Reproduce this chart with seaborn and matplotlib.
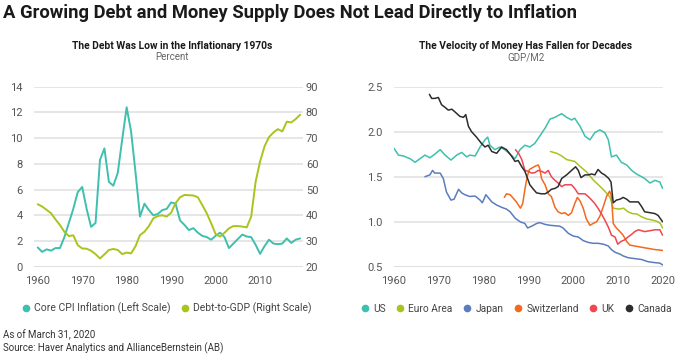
import pandas as pd
import matplotlib
matplotlib.use("Agg")
import matplotlib.pyplot as plt
from matplotlib.lines import Line2D
import seaborn as sns

sns.set_style("white")
plt.rcParams['font.family'] = ['Roboto', 'DejaVu Sans']

# ---- left panel: core CPI and debt-to-GDP, annual 1960-2019
years = list(range(1960, 2020))
cpi = [1.5, 1.15, 1.35, 1.25, 1.45, 1.45, 2.3, 3.4, 4.5, 5.8,
       6.2, 4.5, 3.1, 3.4, 8.3, 9.2, 6.6, 6.3, 7.3, 9.9,
       12.4, 10.5, 7.3, 3.9, 4.9, 4.4, 4.0, 4.1, 4.4, 4.5,
       5.0, 4.9, 3.6, 3.25, 2.85, 3.0, 2.65, 2.4, 2.3, 2.1,
       2.4, 2.65, 2.3, 1.45, 1.8, 2.15, 2.5, 2.35, 2.3, 1.7,
       1.0, 1.6, 2.1, 1.8, 1.75, 1.8, 2.2, 1.85, 2.1, 2.2]
debt = [44.3, 43.4, 42.1, 40.8, 38.4, 36.2, 33.6, 31.9, 32.2, 28.4,
        27.1, 27.0, 26.2, 24.9, 23.2, 24.8, 26.5, 26.9, 26.5, 24.9,
        25.5, 25.2, 28.0, 32.3, 33.6, 35.8, 38.8, 39.7, 40.0, 39.5,
        41.0, 44.7, 47.0, 47.9, 47.8, 47.7, 47.0, 44.0, 40.8, 36.9,
        32.7, 31.7, 33.2, 34.9, 35.8, 35.8, 35.6, 35.3, 39.5, 53.1,
        60.9, 66.8, 70.4, 72.2, 73.5, 72.6, 76.4, 76.1, 77.4, 79.1]

# ---- right panel: velocity of money (GDP/M2)
us_year = [1960, 1961.0, 1962.1, 1963.6, 1964.7, 1965.8, 1966.9, 1968.0, 1969.1, 1970.3,
           1971.4, 1972.7, 1974.0, 1975.1, 1976.2, 1976.9, 1978.1, 1979.2, 1980.3, 1980.9,
           1981.4, 1982.5, 1983.6, 1984.7, 1985.9, 1987.0, 1988.1, 1989.2, 1990.3, 1991.4,
           1992.5, 1993.7, 1994.8, 1995.9, 1997.4, 1998.5, 1999.6, 2000.3, 2001.5, 2002.6,
           2003.7, 2004.8, 2005.9, 2007.0, 2007.8, 2008.5, 2009.6, 2010.7, 2011.9, 2013.0,
           2014.1, 2015.2, 2015.9, 2017.1, 2018.2, 2019.3, 2019.9]
us_val = [1.815, 1.74, 1.73, 1.70, 1.66, 1.70, 1.74, 1.71, 1.75, 1.80,
          1.74, 1.685, 1.74, 1.77, 1.72, 1.74, 1.73, 1.83, 1.91, 1.94,
          1.85, 1.80, 1.83, 1.80, 1.75, 1.70, 1.80, 1.85, 1.83, 1.87,
          1.95, 2.04, 2.14, 2.16, 2.20, 2.16, 2.13, 2.15, 2.06, 1.95,
          1.91, 1.99, 2.02, 1.99, 1.91, 1.72, 1.74, 1.66, 1.63, 1.57,
          1.53, 1.50, 1.48, 1.43, 1.46, 1.44, 1.37]

euro_year = [1994.9, 1996.3, 1997.4, 1998.5, 2000.3, 2001.6, 2003.0, 2004.5, 2005.8, 2007.2,
             2008.2, 2008.9, 2010.2, 2011.2, 2012.2, 2013.2, 2014.2, 2015.2, 2016.4, 2017.5,
             2018.6, 2019.4, 2019.9]
euro_val = [1.78, 1.76, 1.73, 1.69, 1.67, 1.61, 1.55, 1.46, 1.40, 1.33,
            1.27, 1.15, 1.14, 1.15, 1.11, 1.09, 1.085, 1.055, 1.03, 1.02,
            1.005, 0.98, 0.93]

japan_year = [1966.9, 1968.0, 1968.6, 1969.1, 1970.3, 1971.0, 1971.7, 1972.7, 1973.4, 1974.4,
              1975.1, 1975.8, 1976.9, 1978.1, 1979.2, 1979.7, 1980.5, 1981.8, 1982.9, 1984.0,
              1985.1, 1985.9, 1987.0, 1988.1, 1989.2, 1989.8, 1990.7, 1991.8, 1992.5, 1993.7,
              1994.8, 1995.9, 1997.0, 1997.7, 1998.9, 2000.0, 2001.1, 2002.2, 2003.3, 2004.4,
              2005.5, 2006.7, 2007.8, 2008.5, 2009.3, 2010.4, 2011.1, 2012.2, 2013.7, 2015.2,
              2016.7, 2018.2, 2019.3, 2019.9]
japan_val = [1.50, 1.52, 1.57, 1.54, 1.54, 1.48, 1.33, 1.24, 1.25, 1.36,
             1.32, 1.30, 1.28, 1.285, 1.24, 1.21, 1.30, 1.22, 1.185, 1.16,
             1.14, 1.11, 1.04, 1.00, 0.98, 0.93, 0.95, 0.98, 0.99, 0.97,
             0.96, 0.955, 0.95, 0.93, 0.87, 0.84, 0.83, 0.79, 0.77, 0.76,
             0.76, 0.75, 0.73, 0.69, 0.66, 0.64, 0.62, 0.60, 0.59, 0.58,
             0.555, 0.545, 0.54, 0.52]

swiss_year = [1984.6, 1985.1, 1985.9, 1986.6, 1987.3, 1988.2, 1988.7, 1989.2, 1989.7, 1990.2,
              1990.9, 1991.6, 1992.2, 1992.5, 1992.9, 1993.7, 1994.4, 1995.1, 1995.9, 1996.6,
              1997.4, 1998.1, 1998.9, 1999.6, 2000.3, 2000.9, 2001.5, 2002.2, 2002.9, 2003.7,
              2004.4, 2005.2, 2005.9, 2006.7, 2007.4, 2008.1, 2008.5, 2008.9, 2009.6, 2010.4,
              2011.1, 2011.9, 2012.6, 2013.7, 2014.8, 2015.9, 2017.1, 2018.2, 2019.3, 2019.9]
swiss_val = [1.27, 1.31, 1.30, 1.26, 1.22, 1.15, 1.20, 1.36, 1.50, 1.58,
             1.60, 1.62, 1.63, 1.59, 1.48, 1.41, 1.31, 1.28, 1.16, 1.11,
             1.09, 1.10, 1.07, 1.10, 1.20, 1.27, 1.23, 1.15, 1.03, 0.96,
             0.98, 1.00, 1.06, 1.17, 1.28, 1.34, 1.28, 0.98, 0.93, 0.89,
             0.85, 0.78, 0.74, 0.73, 0.72, 0.71, 0.70, 0.69, 0.685, 0.68]

uk_year = [1987.1, 1987.9, 1988.5, 1989.2, 1989.9, 1990.7, 1991.4, 1992.2, 1992.9, 1993.7,
           1994.4, 1995.1, 1995.9, 1996.6, 1997.4, 1998.1, 1998.9, 1999.6, 2000.3, 2001.1,
           2001.8, 2002.6, 2003.3, 2004.1, 2004.8, 2005.5, 2006.3, 2007.0, 2007.8, 2008.5,
           2009.3, 2009.9, 2010.6, 2011.5, 2012.2, 2013.0, 2013.7, 2014.5, 2015.2, 2015.9,
           2017.1, 2018.2, 2019.3, 2019.9]
uk_val = [1.80, 1.75, 1.69, 1.57, 1.56, 1.54, 1.545, 1.57, 1.56, 1.54,
          1.57, 1.50, 1.46, 1.43, 1.39, 1.41, 1.41, 1.41, 1.37, 1.31,
          1.31, 1.31, 1.28, 1.24, 1.20, 1.15, 1.085, 1.02, 0.94, 0.85,
          0.83, 0.75, 0.78, 0.80, 0.83, 0.86, 0.89, 0.91, 0.90, 0.89,
          0.90, 0.91, 0.91, 0.85]

canada_year = [1967.9, 1968.4, 1969.1, 1969.9, 1970.6, 1971.4, 1972.1, 1972.9, 1973.6, 1974.7,
               1975.5, 1976.0, 1976.6, 1977.3, 1978.4, 1979.5, 1980.3, 1981.0, 1981.8, 1982.9,
               1984.0, 1985.1, 1986.2, 1987.0, 1987.7, 1988.5, 1989.2, 1990.3, 1991.1, 1991.8,
               1992.9, 1993.7, 1994.4, 1995.1, 1995.9, 1996.6, 1997.4, 1998.5, 1999.6, 2000.5,
               2001.1, 2001.7, 2002.6, 2003.3, 2004.1, 2004.8, 2005.5, 2006.3, 2007.0, 2007.9,
               2008.4, 2008.9, 2009.6, 2010.4, 2011.1, 2011.9, 2012.6, 2013.7, 2014.5, 2015.2,
               2015.9, 2017.1, 2018.2, 2018.9, 2019.9]
canada_val = [2.415, 2.37, 2.37, 2.38, 2.30, 2.27, 2.24, 2.25, 2.22, 2.17,
              2.16, 2.19, 2.06, 2.00, 1.94, 1.87, 1.83, 1.85, 1.78, 1.76,
              1.83, 1.80, 1.73, 1.67, 1.68, 1.61, 1.56, 1.41, 1.36, 1.32,
              1.31, 1.31, 1.33, 1.36, 1.37, 1.39, 1.48, 1.52, 1.57, 1.61,
              1.57, 1.49, 1.52, 1.52, 1.53, 1.52, 1.58, 1.54, 1.52, 1.48,
              1.44, 1.21, 1.24, 1.25, 1.27, 1.25, 1.22, 1.22, 1.22, 1.17,
              1.11, 1.10, 1.09, 1.07, 1.00]

countries = ["US", "Euro Area", "Japan", "Switzerland", "UK", "Canada"]
colors = ["#3fbfad", "#a9c41d", "#5b7dbd", "#f26a1e", "#f0464f", "#2d2d2d"]

TICK = "#555555"
GRID = "#e2e2e2"

vel = pd.concat([
    pd.DataFrame({"year": y, "v": v, "country": c})
    for y, v, c in zip([us_year, euro_year, japan_year, swiss_year, uk_year, canada_year],
                       [us_val, euro_val, japan_val, swiss_val, uk_val, canada_val],
                       countries)
])

fig = plt.figure(figsize=(6.9, 3.54), dpi=100)


def style_axis(a):
    for s in a.spines.values():
        s.set_visible(False)
    a.tick_params(length=0, labelsize=8, labelcolor=TICK)
    a.set_xlabel("")
    a.set_ylabel("")


# ---------- left
ax = fig.add_axes([0.0493, 0.2466, 0.3899, 0.5085])
ax2 = ax.twinx()
sns.lineplot(x=years, y=cpi, ax=ax, color=colors[0], lw=1.4)
sns.lineplot(x=years, y=debt, ax=ax2, color=colors[1], lw=1.4)
ax.set_xlim(1959.17, 2019.66)
ax.set_ylim(0, 14)
ax2.set_ylim(20, 90)
ax.set_yticks(range(0, 15, 2))
ax2.set_yticks(range(20, 91, 10))
ax.set_xticks(range(1960, 2011, 10))
ax.yaxis.grid(True, color=GRID, lw=1.2)
ax.set_axisbelow(True)
ax.axhline(0, color="#c9c9c9", lw=1.8, zorder=0.5)
style_axis(ax)
style_axis(ax2)
ax.tick_params(axis="y", pad=8)
ax.tick_params(axis="x", pad=7)
ax2.tick_params(axis="y", pad=2)

fig.text(0.25, 0.862, "The Debt Was Low in the Inflationary 1970s", ha="center",
         fontsize=7.4, fontweight="bold", color="#1a1a1a")
fig.text(0.25, 0.83, "Percent", ha="center", fontsize=7, color="#666666")

# ---------- right
bx = fig.add_axes([0.571, 0.2466, 0.3899, 0.5085])
sns.lineplot(data=vel, x="year", y="v", hue="country", palette=dict(zip(countries, colors)),
             estimator=None, lw=1.1, legend=False, ax=bx)
bx.set_xlim(1960, 2020)
bx.set_ylim(0.5, 2.5)
bx.set_yticks([0.5, 1.0, 1.5, 2.0, 2.5])
bx.set_yticklabels(["0.5", "1.0", "1.5", "2.0", "2.5"])
bx.set_xticks(range(1960, 2021, 10))
bx.yaxis.grid(True, color=GRID, lw=1.2)
bx.set_axisbelow(True)
bx.axhline(0.5, color="#c9c9c9", lw=1.8, zorder=0.5)
style_axis(bx)
bx.tick_params(axis="y", pad=8)
bx.tick_params(axis="x", pad=7)

fig.text(0.762, 0.862, "The Velocity of Money Has Fallen for Decades", ha="center",
         fontsize=7.4, fontweight="bold", color="#1a1a1a")
fig.text(0.762, 0.83, "GDP/M2", ha="center", fontsize=7, color="#666666")


def dot(c):
    return Line2D([], [], marker="o", ls="", color=c, markersize=4.5)


fig.legend([dot(colors[0]), dot(colors[1])],
           ["Core CPI Inflation (Left Scale)", "Debt-to-GDP (Right Scale)"],
           loc="center left", bbox_to_anchor=(0.022, 0.13), ncol=2, frameon=False,
           fontsize=7.5, labelcolor="#444444", handlelength=0.6, handletextpad=0.5,
           columnspacing=1.1, borderpad=0.2)
fig.legend([dot(c) for c in colors], countries,
           loc="center left", bbox_to_anchor=(0.514, 0.127), ncol=6, frameon=False,
           fontsize=7.3, labelcolor="#444444", handlelength=0.6, handletextpad=0.5,
           columnspacing=1.15, borderpad=0.2)

fig.text(0.004, 0.962, "A Growing Debt and Money Supply Does Not Lead Directly to Inflation",
         fontsize=13.2, fontweight="bold", color="#1a1a1a", va="center")
fig.text(0.004, 0.053, "As of March 31, 2020", fontsize=7, color="#333333", va="center")
fig.text(0.004, 0.016, "Source: Haver Analytics and AllianceBernstein (AB)", fontsize=7,
         color="#333333", va="center")

fig.savefig("out.png", dpi=100)
